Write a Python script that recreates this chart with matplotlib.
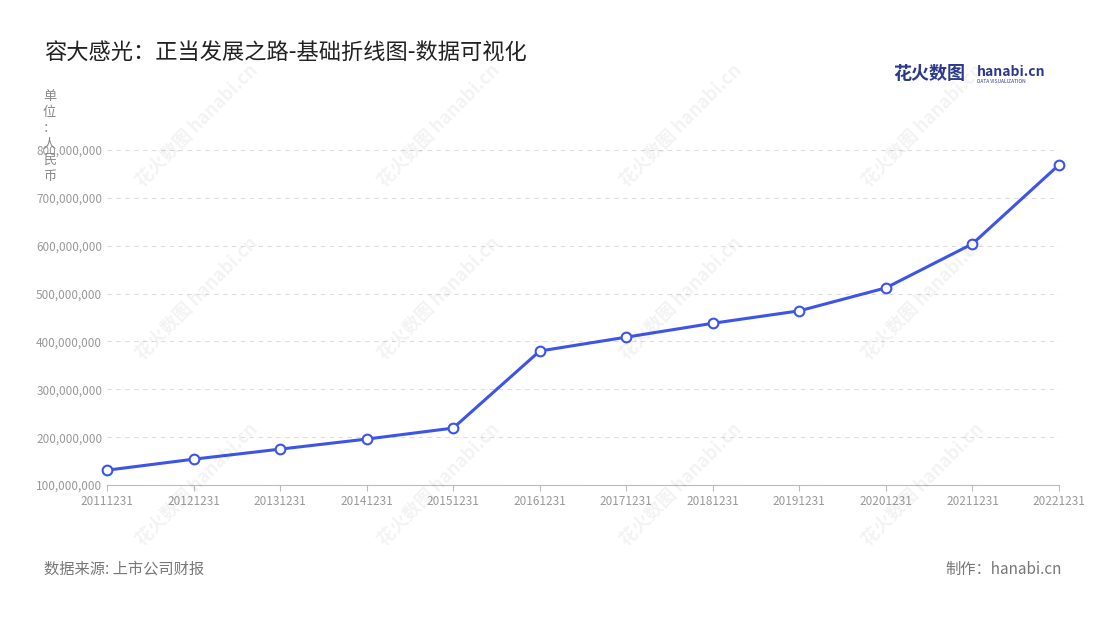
import matplotlib.pyplot as plt
from matplotlib.ticker import FuncFormatter

plt.rcParams['font.family'] = ['Noto Sans CJK SC', 'DejaVu Sans']

years = ["20111231", "20121231", "20131231", "20141231", "20151231", "20161231",
         "20171231", "20181231", "20191231", "20201231", "20211231", "20221231"]
revenue = [131e6, 154e6, 175e6, 196e6, 219e6, 380e6,
           409e6, 438e6, 464e6, 512e6, 604e6, 769e6]

fig = plt.figure(figsize=(11, 6.2), dpi=100)
ax = fig.add_axes([0.0973, 0.2177, 0.8654, 0.5403])

x = list(range(len(years)))
ax.plot(x, revenue, color="#3d54e8", lw=2.2, marker="o", ms=7,
        mfc="white", mec="#3d54e8", mew=1.5, zorder=3, clip_on=False)

ax.set_xlim(0, len(years) - 1)
ax.set_ylim(100e6, 800e6)
ax.set_xticks(x)
ax.set_xticklabels(years)
ax.set_yticks([i * 1e8 for i in range(1, 9)])
ax.yaxis.set_major_formatter(FuncFormatter(lambda v, p: f"{int(v):,}"))
ax.tick_params(axis="both", colors="#999999", labelsize=8.5, length=0)
ax.tick_params(axis="x", length=4, color="#bbbbbb")
ax.grid(axis="y", ls=(0, (4, 4)), color="#dddddd", lw=0.8)
for s in ["top", "right", "left"]:
    ax.spines[s].set_visible(False)
ax.spines["bottom"].set_color("#bbbbbb")

# watermarks
for wx in [0.12, 0.34, 0.56, 0.78]:
    for wy in [0.12, 0.42, 0.70]:
        fig.text(wx, wy, "花火数图 hanabi.cn", rotation=45, fontsize=13,
                 color="#000000", alpha=0.05, fontweight="bold")

fig.text(0.04, 0.905, "容大感光：正当发展之路-基础折线图-数据可视化", fontsize=16, color="#222222")
fig.text(0.812, 0.873, "花火数图", fontsize=13, fontweight="bold", color="#2b3a8c")
fig.text(0.888, 0.878, "hanabi.cn", fontsize=10, fontweight="bold", color="#2b3a8c")
fig.text(0.888, 0.866, "DATA VISUALIZATION", fontsize=3.5, color="#2b3a8c")

fig.text(0.039, 0.855, "单\n位\n：\n人\n民\n币", fontsize=9.5, color="#888888",
         va="top", linespacing=1.3)

fig.text(0.04, 0.075, "数据来源: 上市公司财报", fontsize=11, color="#777777")
fig.text(0.965, 0.075, "制作：hanabi.cn", fontsize=11, color="#777777", ha="right")

fig.savefig("out.png", dpi=100)
